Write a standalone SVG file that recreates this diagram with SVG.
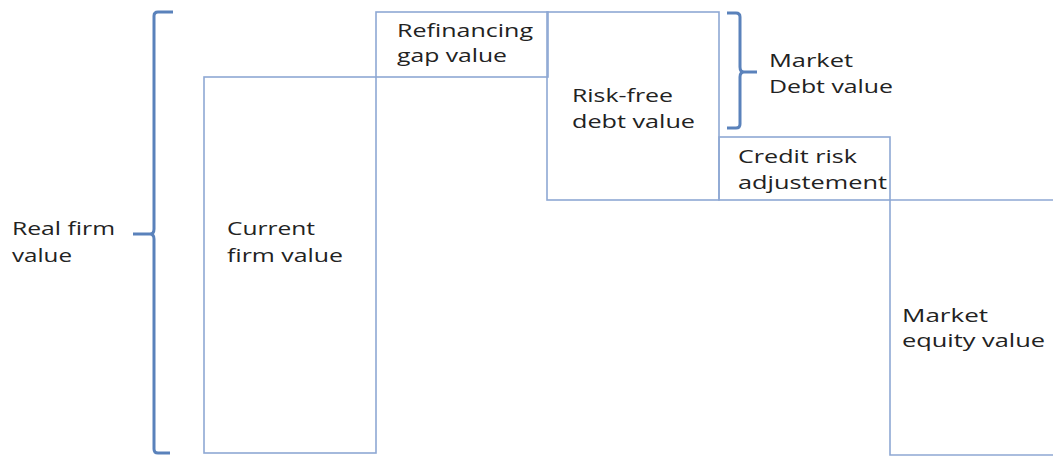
<svg xmlns="http://www.w3.org/2000/svg" width="1053" height="456" viewBox="0 0 1053 456">
<style>
.box{fill:none;stroke:#8ea8d4;stroke-width:1.6}
.br{fill:none;stroke:#5a82bb;stroke-width:3;stroke-linejoin:round}
text{font-family:"Open Sans","Liberation Sans",sans-serif;font-size:18px;fill:#222}
</style>
<rect width="1053" height="456" fill="#fff"/>
<g id="connectors">
<path class="br" d="M173,12 H158 Q154,12 154,16 V229 Q154,234 150,234 H133 M150,234 Q154,234 154,239 V449 Q154,453 158,453 H170"/>
<path class="br" d="M727,13 H736 Q740,13 740,17 V67 Q740,72 744,72 H757 M744,72 Q740,72 740,77 V124 Q740,128 736,128 H727"/>
</g>
<g id="current"><rect class="box" x="204" y="77" width="172" height="376"/>
<text x="227" y="235" textLength="88" lengthAdjust="spacingAndGlyphs">Current</text>
<text x="227" y="262" textLength="116" lengthAdjust="spacingAndGlyphs">firm value</text></g>
<g id="refinancing"><rect class="box" x="376" y="12" width="172" height="65"/>
<text x="397" y="37" textLength="136" lengthAdjust="spacingAndGlyphs">Refinancing</text>
<text x="397" y="62" textLength="110" lengthAdjust="spacingAndGlyphs">gap value</text></g>
<g id="riskfree"><rect class="box" x="547" y="12" width="172" height="188"/>
<text x="572" y="102" textLength="101" lengthAdjust="spacingAndGlyphs">Risk-free</text>
<text x="572" y="128" textLength="123" lengthAdjust="spacingAndGlyphs">debt value</text></g>
<g id="credit"><rect class="box" x="719" y="137" width="171" height="63"/>
<text x="738" y="163" textLength="119" lengthAdjust="spacingAndGlyphs">Credit risk</text>
<text x="738" y="189" textLength="149" lengthAdjust="spacingAndGlyphs">adjustement</text></g>
<g id="equity"><path class="box" d="M1060,200 H890 V455 H1060"/>
<text x="902" y="322" textLength="86" lengthAdjust="spacingAndGlyphs">Market</text>
<text x="902" y="347" textLength="143" lengthAdjust="spacingAndGlyphs">equity value</text></g>
<g id="marketdebt">
<text x="769" y="67" textLength="84" lengthAdjust="spacingAndGlyphs">Market</text>
<text x="769" y="93" textLength="124" lengthAdjust="spacingAndGlyphs">Debt value</text></g>
<g id="realfirm">
<text x="12" y="235" textLength="103" lengthAdjust="spacingAndGlyphs">Real firm</text>
<text x="12" y="262" textLength="60" lengthAdjust="spacingAndGlyphs">value</text></g>
</svg>
